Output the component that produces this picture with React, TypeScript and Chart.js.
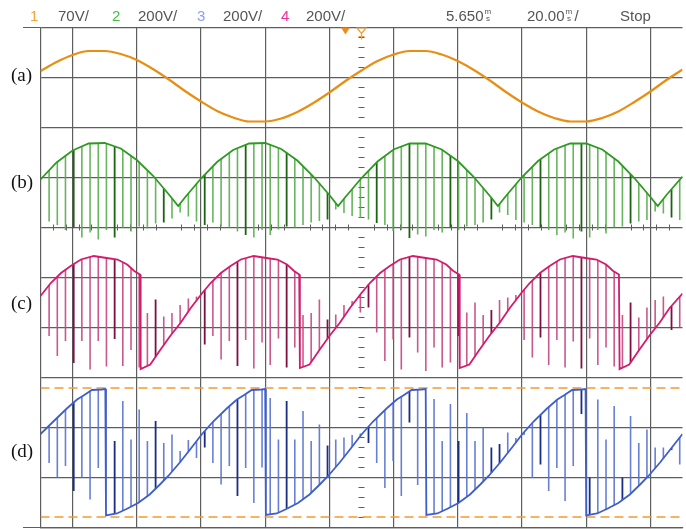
import React, { useEffect, useRef } from "react";
import { Chart, registerables } from "chart.js";
Chart.register(...registerables);

// ---------- data (x in divisions 0..10, y in divisions 0..10 from bottom) ----------
const sineT = [0,0.25,0.5,0.75,1,1.25,1.5,1.75,2,2.25,2.5,2.75,3,3.25,3.5,3.75,4,4.25,4.5,4.75,5,5.25,5.5,5.75,6,6.25,6.5,6.75,7,7.25,7.5,7.75,8,8.25,8.5,8.75,9,9.25,9.5,9.75,10];
const sineV = [9.13,9.31,9.45,9.53,9.53,9.47,9.35,9.17,8.96,8.73,8.52,8.33,8.20,8.12,8.12,8.18,8.31,8.49,8.70,8.93,9.14,9.33,9.46,9.53,9.53,9.46,9.33,9.15,8.94,8.71,8.50,8.32,8.19,8.12,8.12,8.19,8.32,8.51,8.72,8.95,9.16];

const greenT = [0,0.25,0.5,0.75,1,1.25,1.5,1.75,2,2.145,2.25,2.5,2.75,3,3.25,3.5,3.75,4,4.25,4.5,4.635,4.75,5,5.25,5.5,5.75,6,6.25,6.5,6.75,7,7.125,7.25,7.5,7.75,8,8.25,8.5,8.75,9,9.25,9.5,9.615,9.75,10];
const greenV = [6.96,7.30,7.54,7.68,7.69,7.58,7.35,7.04,6.66,6.43,6.60,6.98,7.31,7.55,7.68,7.69,7.57,7.34,7.02,6.65,6.43,6.61,6.99,7.32,7.56,7.68,7.68,7.56,7.33,7.01,6.63,6.43,6.63,7.01,7.33,7.56,7.68,7.68,7.56,7.32,6.99,6.61,6.43,6.65,7.02];

const magT = [0,0.16,0.32,0.47,0.63,0.83,1.03,1.20,1.35,1.46,1.55,
  1.56,1.71,1.87,2.02,2.18,2.34,2.52,2.65,2.81,2.96,3.12,3.32,3.52,3.69,3.84,3.95,4.03,
  4.04,4.19,4.35,4.50,4.66,4.82,5.00,5.13,5.29,5.44,5.60,5.80,6.00,6.17,6.32,6.43,6.52,
  6.53,6.68,6.84,6.99,7.15,7.31,7.49,7.62,7.78,7.93,8.09,8.29,8.49,8.66,8.81,8.92,9.01,
  9.02,9.17,9.33,9.48,9.64,9.80,10];
const magV = [4.63,4.89,5.09,5.23,5.36,5.43,5.39,5.36,5.26,5.13,5.06,
  3.17,3.26,3.56,3.83,4.09,4.39,4.69,4.89,5.09,5.23,5.36,5.43,5.39,5.36,5.26,5.13,5.06,
  3.19,3.26,3.56,3.83,4.09,4.39,4.69,4.89,5.09,5.23,5.36,5.43,5.39,5.36,5.26,5.13,5.06,
  3.19,3.26,3.56,3.83,4.09,4.39,4.69,4.89,5.09,5.23,5.36,5.43,5.39,5.36,5.26,5.13,5.06,
  3.17,3.26,3.56,3.83,4.09,4.39,4.68];

const blueT = [0,0.20,0.41,0.57,0.67,0.80,0.95,1.01,
  1.02,1.19,1.34,1.52,1.70,1.86,1.99,2.17,2.33,2.51,2.69,2.90,3.06,3.16,3.29,3.44,3.50,
  3.51,3.68,3.83,4.01,4.19,4.35,4.48,4.66,4.82,5.00,5.18,5.39,5.55,5.65,5.78,5.93,6.00,
  6.01,6.18,6.33,6.51,6.69,6.85,6.98,7.16,7.32,7.50,7.68,7.89,8.05,8.15,8.28,8.43,8.49,
  8.50,8.67,8.82,9.00,9.18,9.34,9.47,9.65,9.81,10];
const blueV = [1.87,2.12,2.38,2.56,2.64,2.75,2.76,2.77,
  0.24,0.28,0.37,0.49,0.66,0.86,1.03,1.30,1.56,1.86,2.12,2.38,2.56,2.64,2.75,2.76,2.77,
  0.25,0.28,0.37,0.49,0.66,0.86,1.03,1.30,1.56,1.86,2.12,2.38,2.56,2.64,2.75,2.76,2.77,
  0.25,0.28,0.37,0.49,0.66,0.86,1.03,1.30,1.56,1.86,2.12,2.38,2.56,2.64,2.75,2.76,2.77,
  0.24,0.28,0.37,0.49,0.66,0.86,1.03,1.30,1.56,1.87];

// switching spikes: shared instants, and the far end of each spike per trace
const spikeT = [0.134,0.262,0.389,0.517,0.644,0.772,0.900,1.027,1.155,1.282,
  1.410,1.537,1.665,1.793,1.920,2.048,2.175,2.303,2.430,2.558,
  2.685,2.813,2.941,3.068,3.196,3.323,3.451,3.578,3.706,3.834,
  3.961,4.089,4.216,4.344,4.471,4.599,4.727,4.854,4.982,5.109,
  5.237,5.364,5.492,5.620,5.747,5.875,6.002,6.130,6.257,6.385,
  6.512,6.640,6.768,6.895,7.023,7.150,7.278,7.405,7.533,7.661,
  7.788,7.916,8.043,8.171,8.298,8.426,8.554,8.681,8.809,8.936,
  9.064,9.191,9.319,9.446,9.574,9.702,9.829,9.957];

const greenSpikeEnd = [6.12,6.05,5.95,6.00,5.80,5.90,5.76,5.95,5.80,6.00,
  5.92,6.02,5.98,6.08,6.10,6.18,6.30,6.22,6.12,6.05,
  6.10,6.02,6.00,5.92,5.85,5.80,5.95,5.85,5.96,6.02,
  6.00,6.05,6.10,6.13,6.16,6.36,6.29,6.23,6.19,6.16,
  6.09,6.05,5.93,5.95,5.79,5.86,5.82,5.95,5.90,6.00,
  5.95,6.02,6.05,6.10,6.16,6.30,6.25,6.15,6.10,6.05,
  6.00,5.95,5.85,5.90,5.78,5.92,5.80,5.95,5.88,6.00,
  6.02,6.08,6.12,6.15,6.32,6.28,6.20,6.15];

const magSpikeEnd = [3.83,3.43,3.73,3.29,3.73,3.16,3.73,3.22,3.77,3.23,3.55,3.20,
  4.29,4.56,4.22,4.29,4.45,4.58,4.62,
  3.66,3.83,3.36,3.73,3.23,3.75,3.18,3.70,3.25,3.78,3.20,3.60,
  4.25,4.29,4.56,4.16,4.26,4.45,4.53,4.30,
  4.40,3.90,3.33,3.76,3.16,3.80,3.50,3.13,3.60,3.20,3.30,3.83,
  4.30,4.50,4.25,4.35,4.55,4.60,4.65,
  3.75,3.40,3.80,3.25,3.75,3.20,3.72,3.18,3.78,3.25,3.60,3.22,
  4.25,4.50,4.20,4.40,4.55,4.62,3.95,4.00];

const blueSpikeEnd = [1.29,1.00,1.23,0.73,1.00,0.56,1.19,
  null,
  1.73,2.53,1.76,2.36,1.73,2.13,1.69,1.86,1.53,1.75,
  1.39,1.60,1.29,0.86,1.23,0.63,1.19,0.49,1.20,
  2.59,1.76,2.53,1.76,2.33,1.73,2.06,1.64,1.76,1.80,1.85,1.88,
  1.69,1.29,0.79,1.33,0.63,2.10,0.85,
  null,
  2.57,1.73,2.47,1.73,2.29,1.73,2.00,1.60,1.67,1.90,1.79,1.85,
  0.99,1.26,0.73,1.19,0.53,1.23,2.27,
  1.00,2.56,1.76,2.43,1.00,2.23,1.69,1.96,1.60,1.60,1.55,1.26];

const greenDark = [3,8,14,19,24,29,34,40,44,49,54,60,65,71,76];
const magDark = [3,8,13,19,23,29,34,39,44,50,54,60,65,71,76];
const blueDark = [3,8,13,19,23,29,34,39,44,50,54,55,60,65,66,70,76];

const cursorLevels = [2.79, 0.21];
const traceLabels = ["(a)", "(b)", "(c)", "(d)"];
const traceLabelLevels = [9.02, 6.88, 4.46, 1.5];

const headerTexts = ["1", "70V/", "2", "200V/", "3", "200V/", "4", "200V/", "5.650", "20.00", "Stop"];

// ---------- styles ----------
const GRID = "#5e5e5e";
const ORANGE = "#e88e12";
const GREEN = "#2f9a22";
const GREEN_SP = "rgba(88,172,78,0.9)";
const GREEN_DK = "#1c6413";
const MAG = "#d51a6c";
const MAG_SP = "rgba(196,70,130,0.9)";
const MAG_DK = "#7c1042";
const BLUE = "#3f5ecd";
const BLUE_SP = "rgba(88,114,206,0.9)";
const BLUE_DK = "#1b2c84";

function pts(ts: number[], vs: number[]) {
  return ts.map((t, i) => ({ x: t, y: vs[i] }));
}

function envAt(ts: number[], vs: number[], t: number) {
  for (let i = 1; i < ts.length; i++) {
    if (t <= ts[i]) {
      const f = (t - ts[i - 1]) / (ts[i] - ts[i - 1]);
      return vs[i - 1] + f * (vs[i] - vs[i - 1]);
    }
  }
  return vs[vs.length - 1];
}

function spikes(ts: number[], vs: number[], ends: (number | null)[], dark: number[], wantDark: boolean) {
  const out: any[] = [];
  spikeT.forEach((t, i) => {
    const e = ends[i];
    if (e == null) return;
    if (dark.includes(i) !== wantDark) return;
    out.push({ x: t, y: [envAt(ts, vs, t), e] });
  });
  return out;
}

function lineDs(data: any[], color: string, width: number, order: number, smooth = false) {
  return {
    type: "line",
    data,
    borderColor: color,
    borderWidth: width,
    pointRadius: 0,
    fill: false,
    tension: 0,
    cubicInterpolationMode: smooth ? "monotone" : "default",
    order,
  };
}

function barDs(data: any[], color: string, width: number, order: number) {
  return {
    type: "bar",
    data,
    backgroundColor: color,
    borderWidth: 0,
    barThickness: width,
    inflateAmount: 0,
    grouped: false,
    order,
  };
}

const decor = {
  id: "decor",
  beforeDatasetsDraw(chart: any) {
    const { ctx, chartArea: a, scales } = chart;
    const xs = scales.x, ys = scales.y;
    ctx.save();
    ctx.strokeStyle = GRID;
    ctx.lineWidth = 1;
    ctx.beginPath();
    // extended top / bottom frame lines
    const yt = ys.getPixelForValue(10), yb = ys.getPixelForValue(0);
    ctx.moveTo(23, yt); ctx.lineTo(a.left, yt);
    ctx.moveTo(23, yb); ctx.lineTo(a.left, yb);
    // minor ticks on center vertical axis
    const cx = Math.round(xs.getPixelForValue(5) - 0.5) + 0.5;
    for (let i = 1; i < 50; i++) {
      if (i % 5 === 0) continue;
      const py = Math.round(ys.getPixelForValue(i * 0.2) - 0.5) + 0.5;
      ctx.moveTo(cx - 3, py); ctx.lineTo(cx + 3, py);
    }
    // minor ticks on horizontal axis line
    const cy = Math.round(ys.getPixelForValue(6) - 0.5) + 0.5;
    for (let i = 1; i < 50; i++) {
      if (i % 5 === 0) continue;
      const px = Math.round(xs.getPixelForValue(i * 0.2) - 0.5) + 0.5;
      ctx.moveTo(px, cy - 3); ctx.lineTo(px, cy + 3);
    }
    ctx.stroke();
    ctx.restore();
  },
  afterDraw(chart: any) {
    const { ctx, scales } = chart;
    const xs = scales.x, ys = scales.y;
    ctx.save();
    // header
    const hx = [30, 58, 112, 138, 197, 223, 281, 306, 446, 527, 620];
    const hc = ["#f4a33c", "#555", "#45bd45", "#555", "#8c9df2", "#555", "#ef2f9a", "#555", "#555", "#555", "#555"];
    ctx.font = '15px "Liberation Sans", Arial, sans-serif';
    ctx.textBaseline = "alphabetic";
    ctx.textAlign = "left";
    headerTexts.forEach((t, i) => {
      ctx.fillStyle = hc[i];
      ctx.fillText(t, hx[i], 21);
    });
    // stacked "ms" unit glyphs
    ctx.fillStyle = "#555";
    const unitAt = (x: number) => {
      ctx.font = '8px "Liberation Sans", Arial, sans-serif';
      ctx.fillText("m", x, 14);
      ctx.fillText("s", x + 1.5, 21);
    };
    ctx.font = '15px "Liberation Sans", Arial, sans-serif';
    const w1 = ctx.measureText(headerTexts[8]).width;
    const w2 = ctx.measureText(headerTexts[9]).width;
    unitAt(hx[8] + w1 + 1);
    unitAt(hx[9] + w2 + 1);
    ctx.font = '15px "Liberation Sans", Arial, sans-serif';
    ctx.fillText("/", hx[9] + w2 + 10, 21);

    // trace labels
    ctx.fillStyle = "#111";
    ctx.font = '19px "Liberation Serif", "Times New Roman", serif';
    ctx.textBaseline = "middle";
    traceLabels.forEach((t, i) => {
      ctx.fillText(t, 11, ys.getPixelForValue(traceLabelLevels[i]));
    });

    // trigger markers
    const top = ys.getPixelForValue(10);
    const tx = xs.getPixelForValue(4.75);
    ctx.fillStyle = "#f08a1c";
    ctx.beginPath();
    ctx.moveTo(tx - 4.5, top); ctx.lineTo(tx + 4.5, top); ctx.lineTo(tx, top + 7);
    ctx.closePath(); ctx.fill();
    const hxp = xs.getPixelForValue(5);
    ctx.strokeStyle = "#f0a040";
    ctx.lineWidth = 1.2;
    ctx.beginPath();
    ctx.moveTo(hxp - 4.5, top + 0.5); ctx.lineTo(hxp + 4.5, top + 0.5); ctx.lineTo(hxp, top + 6);
    ctx.closePath();
    ctx.moveTo(hxp, top + 6); ctx.lineTo(hxp, top + 12);
    ctx.moveTo(hxp - 3, top + 9); ctx.lineTo(hxp + 3, top + 9);
    ctx.stroke();
    ctx.restore();
  },
};

export default function App() {
  const ref = useRef<HTMLCanvasElement>(null);
  useEffect(() => {
    const datasets: any[] = [
      lineDs(pts(sineT, sineV), ORANGE, 2.2, 1, true),
      lineDs(pts(greenT, greenV), GREEN, 1.8, 1),
      lineDs(pts(magT, magV), MAG, 1.8, 1),
      lineDs(pts(blueT, blueV), BLUE, 1.8, 1),
      barDs(spikes(greenT, greenV, greenSpikeEnd, greenDark, true), GREEN_DK, 1.8, 2),
      barDs(spikes(magT, magV, magSpikeEnd, magDark, true), MAG_DK, 1.8, 2),
      barDs(spikes(blueT, blueV, blueSpikeEnd, blueDark, true), BLUE_DK, 1.8, 2),
      barDs(spikes(greenT, greenV, greenSpikeEnd, greenDark, false), GREEN_SP, 1.6, 3),
      barDs(spikes(magT, magV, magSpikeEnd, magDark, false), MAG_SP, 1.6, 3),
      barDs(spikes(blueT, blueV, blueSpikeEnd, blueDark, false), BLUE_SP, 1.6, 3),
      ...cursorLevels.map((lv) => ({
        type: "line",
        data: [{ x: 0, y: lv }, { x: 10, y: lv }],
        borderColor: "#f29a32",
        borderWidth: 1.5,
        borderDash: [9, 5],
        pointRadius: 0,
        order: 5,
      })),
    ];
    const chart = new Chart(ref.current as HTMLCanvasElement, {
      type: "line",
      data: { datasets },
      options: {
        responsive: false,
        animation: false,
        devicePixelRatio: 1,
        events: [],
        layout: { padding: { left: 40.5, top: 27.5, right: 3.5, bottom: 1.5 } },
        plugins: { legend: { display: false }, tooltip: { enabled: false }, title: { display: false } },
        scales: {
          x: {
            type: "linear", min: 0, max: 10, offset: false,
            ticks: { display: false, stepSize: 1 },
            grid: { color: GRID, lineWidth: 1.2, drawTicks: false },
            border: { display: true, color: GRID, width: 1.2 },
          },
          y: {
            type: "linear", min: 0, max: 10,
            ticks: { display: false, stepSize: 1 },
            grid: { color: GRID, lineWidth: 1.2, drawTicks: false },
            border: { display: true, color: GRID, width: 1.2 },
          },
        },
      } as any,
      plugins: [decor],
    } as any);
    return () => chart.destroy();
  }, []);
  return (
    <div style={{ position: "absolute", left: 0, top: 0, width: 686, height: 529, background: "#fff" }}>
      <canvas ref={ref} width={686} height={529} style={{ display: "block", width: 686, height: 529 }} />
    </div>
  );
}
